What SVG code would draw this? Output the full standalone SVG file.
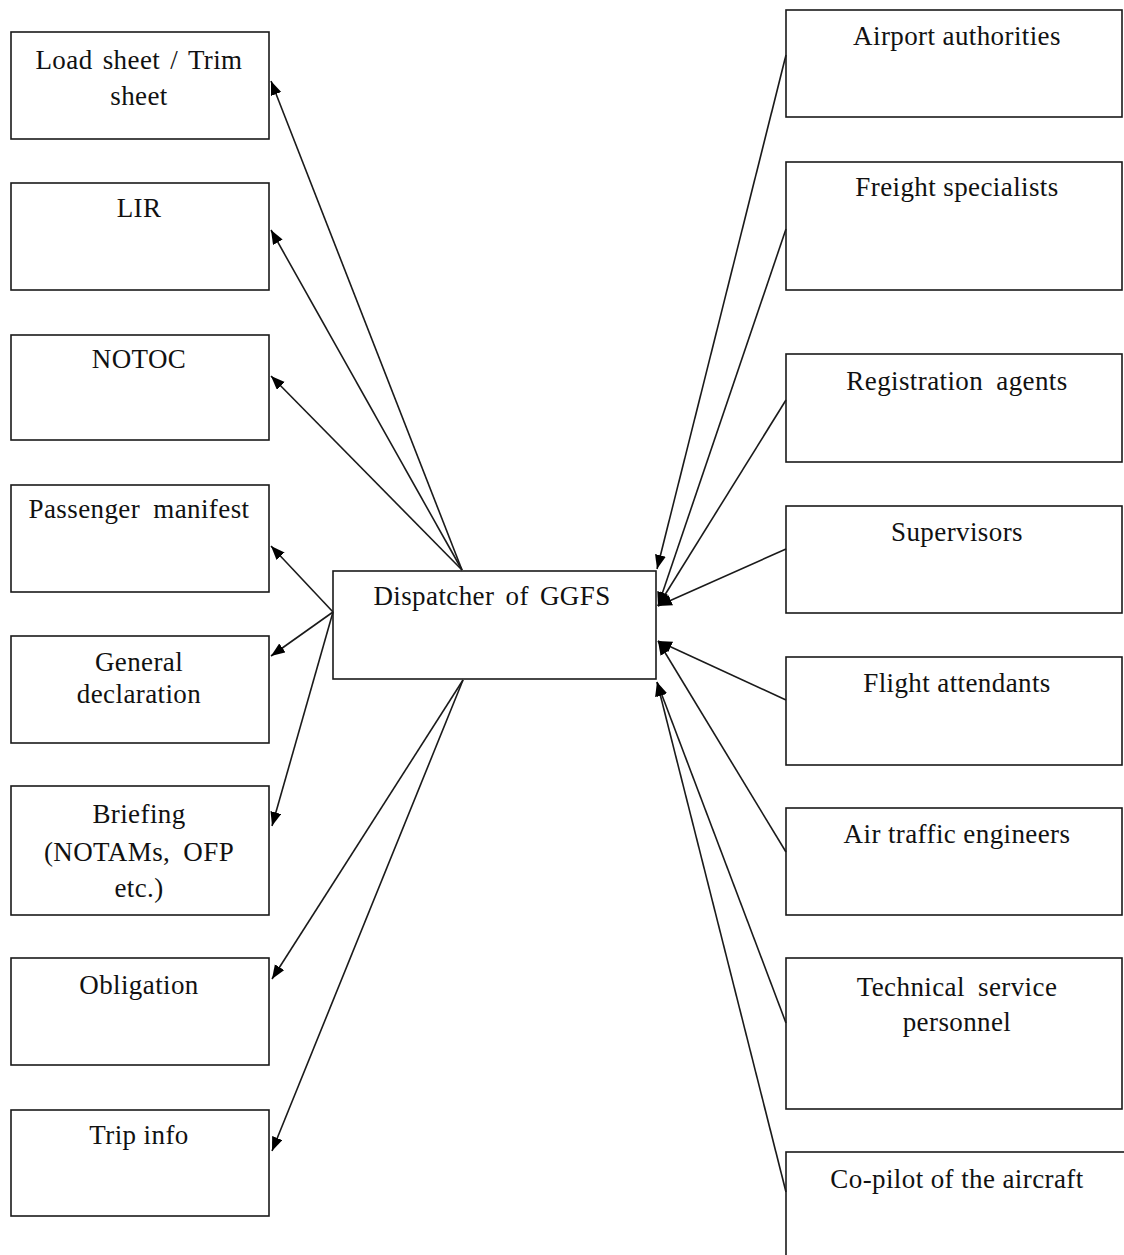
<svg xmlns="http://www.w3.org/2000/svg" width="1124" height="1255" viewBox="0 0 1124 1255">
<style>
.box{fill:#fff;stroke:#1a1a1a;stroke-width:1.6}
.t{font-family:"Liberation Serif","Times New Roman",serif;font-size:27px;fill:#111;text-anchor:middle;letter-spacing:0.4px}
.w{word-spacing:6px}
.c{stroke:#1a1a1a;stroke-width:1.6;fill:none;marker-end:url(#ah)}
</style>
<defs>
<marker id="ah" markerUnits="userSpaceOnUse" markerWidth="15" markerHeight="12" refX="14" refY="5.5" orient="auto">
<path d="M0,0 L14,5.5 L0,11 z" fill="#000"/>
</marker>
</defs>
<rect width="1124" height="1255" fill="#fff"/>
<g id="left-nodes">
<g id="n-loadsheet"><rect class="box" x="11" y="32" width="258" height="107"/><text class="t" x="139" y="69" style="word-spacing:3px">Load sheet / Trim</text><text class="t" x="139" y="105">sheet</text></g>
<g id="n-lir"><rect class="box" x="11" y="183" width="258" height="107"/><text class="t" x="139" y="217">LIR</text></g>
<g id="n-notoc"><rect class="box" x="11" y="335" width="258" height="105"/><text class="t" x="139" y="368">NOTOC</text></g>
<g id="n-manifest"><rect class="box" x="11" y="485" width="258" height="107"/><text class="t w" x="139" y="518">Passenger manifest</text></g>
<g id="n-gendecl"><rect class="box" x="11" y="636" width="258" height="107"/><text class="t" x="139" y="671">General</text><text class="t" x="139" y="703">declaration</text></g>
<g id="n-briefing"><rect class="box" x="11" y="786" width="258" height="129"/><text class="t" x="139" y="823">Briefing</text><text class="t w" x="139" y="861">(NOTAMs, OFP</text><text class="t" x="139" y="897">etc.)</text></g>
<g id="n-obligation"><rect class="box" x="11" y="958" width="258" height="107"/><text class="t" x="139" y="994">Obligation</text></g>
<g id="n-tripinfo"><rect class="box" x="11" y="1110" width="258" height="106"/><text class="t" x="139" y="1144">Trip info</text></g>
</g>
<g id="n-dispatcher"><rect class="box" x="333" y="571" width="323" height="108"/><text class="t" x="492" y="605" style="word-spacing:4px">Dispatcher of GGFS</text></g>
<g id="right-nodes">
<g id="n-airport"><rect class="box" x="786" y="10" width="336" height="107"/><text class="t" x="957" y="45">Airport authorities</text></g>
<g id="n-freight"><rect class="box" x="786" y="162" width="336" height="128"/><text class="t" x="957" y="196">Freight specialists</text></g>
<g id="n-registration"><rect class="box" x="786" y="354" width="336" height="108"/><text class="t w" x="957" y="390">Registration agents</text></g>
<g id="n-supervisors"><rect class="box" x="786" y="506" width="336" height="107"/><text class="t" x="957" y="541">Supervisors</text></g>
<g id="n-attendants"><rect class="box" x="786" y="657" width="336" height="108"/><text class="t" x="957" y="692">Flight attendants</text></g>
<g id="n-atc"><rect class="box" x="786" y="808" width="336" height="107"/><text class="t" x="957" y="843">Air traffic engineers</text></g>
<g id="n-technical"><rect class="box" x="786" y="958" width="336" height="151"/><text class="t w" x="957" y="996">Technical service</text><text class="t" x="957" y="1031">personnel</text></g>
<g id="n-copilot"><rect class="box" x="786" y="1152" width="340" height="120"/><text class="t" x="957" y="1188">Co-pilot of the aircraft</text></g>
</g>
<g id="connectors">
<line class="c" x1="462" y1="570" x2="271" y2="81"/>
<line class="c" x1="462" y1="570" x2="271" y2="230"/>
<line class="c" x1="462" y1="570" x2="271" y2="376"/>
<line class="c" x1="333" y1="612" x2="271" y2="546"/>
<line class="c" x1="333" y1="612" x2="271" y2="656"/>
<line class="c" x1="333" y1="612" x2="272" y2="826"/>
<line class="c" x1="463" y1="680" x2="272" y2="979"/>
<line class="c" x1="463" y1="680" x2="272" y2="1151"/>
<line class="c" x1="786" y1="55" x2="657" y2="569"/>
<line class="c" x1="786" y1="229" x2="658" y2="606"/>
<line class="c" x1="786" y1="400" x2="658" y2="606"/>
<line class="c" x1="786" y1="549" x2="658" y2="606"/>
<line class="c" x1="786" y1="700" x2="658" y2="641"/>
<line class="c" x1="786" y1="852" x2="658" y2="641"/>
<line class="c" x1="786" y1="1023" x2="657" y2="682"/>
<line class="c" x1="786" y1="1192" x2="657" y2="682"/>
</g>
</svg>
